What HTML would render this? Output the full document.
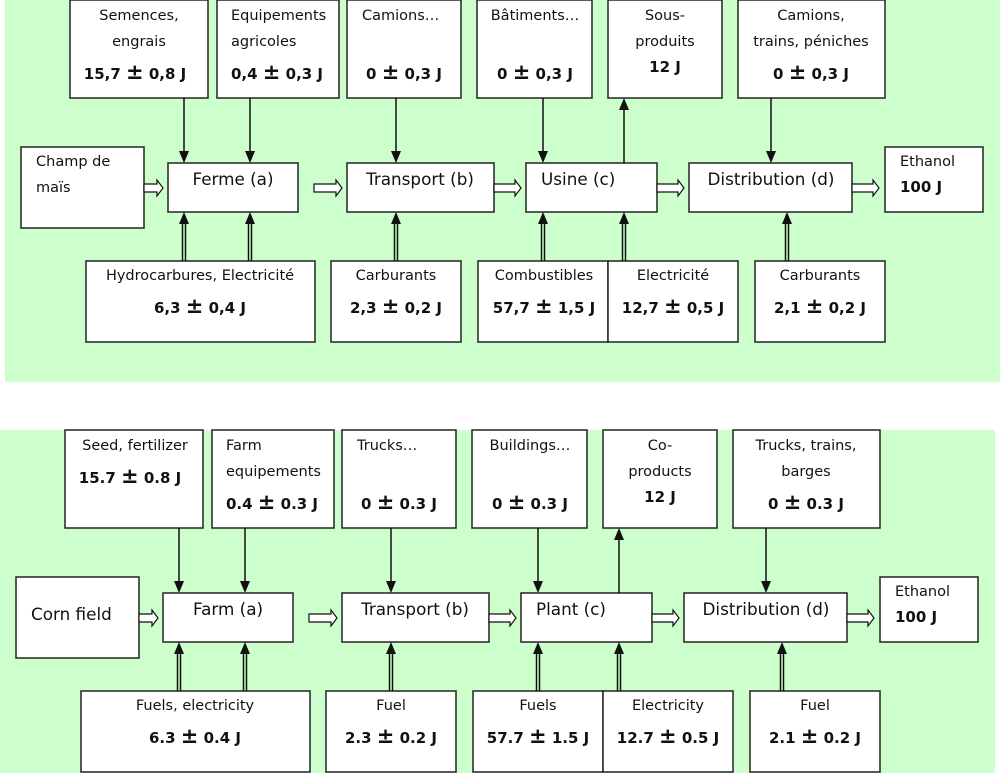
<!DOCTYPE html>
<html><head><meta charset="utf-8"><style>
html,body{margin:0;padding:0;background:#fff;width:1000px;height:773px;overflow:hidden}
svg{display:block;overflow:hidden}
text{font-family:"DejaVu Sans","Liberation Sans",sans-serif;font-size:14.5px;fill:#111}
.b{font-weight:bold;font-size:15px}
.m{font-size:16.8px}
.c{text-anchor:middle}
.pm{font-size:21px}
rect.bx{fill:#fff;stroke:#222;stroke-width:1.5}
line{stroke:#111;stroke-width:1.5}
</style></head><body>
<svg width="1000" height="773" viewBox="0 0 1000 773">
<defs>
<g id="frame">
<rect x="5" y="0" width="995" height="382" fill="#ccffcc"/>
<rect class="bx" x="70" y="0" width="138" height="98"/>
<rect class="bx" x="217" y="0" width="122" height="98"/>
<rect class="bx" x="347" y="0" width="114" height="98"/>
<rect class="bx" x="477" y="0" width="115" height="98"/>
<rect class="bx" x="608" y="0" width="114" height="98"/>
<rect class="bx" x="738" y="0" width="147" height="98"/>
<rect class="bx" x="21" y="147" width="123" height="81"/>
<rect class="bx" x="168" y="163" width="130" height="49"/>
<rect class="bx" x="347" y="163" width="147" height="49"/>
<rect class="bx" x="526" y="163" width="131" height="49"/>
<rect class="bx" x="689" y="163" width="163" height="49"/>
<rect class="bx" x="885" y="147" width="98" height="65"/>
<rect class="bx" x="86" y="261" width="229" height="81"/>
<rect class="bx" x="331" y="261" width="130" height="81"/>
<rect class="bx" x="478" y="261" width="130" height="81"/>
<rect class="bx" x="608" y="261" width="130" height="81"/>
<rect class="bx" x="755" y="261" width="130" height="81"/>
<g fill="#111">
<line x1="184" y1="98" x2="184" y2="152"/><polygon points="179,151 189,151 184,163"/>
<line x1="250" y1="98" x2="250" y2="152"/><polygon points="245,151 255,151 250,163"/>
<line x1="396" y1="98" x2="396" y2="152"/><polygon points="391,151 401,151 396,163"/>
<line x1="543" y1="98" x2="543" y2="152"/><polygon points="538,151 548,151 543,163"/>
<line x1="771" y1="98" x2="771" y2="152"/><polygon points="766,151 776,151 771,163"/>
<line x1="624" y1="163" x2="624" y2="108"/><polygon points="619,110 629,110 624,98"/>
<g stroke="#111" stroke-width="1.3">
<line x1="182.5" y1="261" x2="182.5" y2="222"/><line x1="185.5" y1="261" x2="185.5" y2="222"/>
<line x1="248.5" y1="261" x2="248.5" y2="222"/><line x1="251.5" y1="261" x2="251.5" y2="222"/>
<line x1="394.5" y1="261" x2="394.5" y2="222"/><line x1="397.5" y1="261" x2="397.5" y2="222"/>
<line x1="541.5" y1="261" x2="541.5" y2="222"/><line x1="544.5" y1="261" x2="544.5" y2="222"/>
<line x1="622.5" y1="261" x2="622.5" y2="222"/><line x1="625.5" y1="261" x2="625.5" y2="222"/>
<line x1="785.5" y1="261" x2="785.5" y2="222"/><line x1="788.5" y1="261" x2="788.5" y2="222"/>
</g>
<polygon points="179,224 189,224 184,212"/>
<polygon points="245,224 255,224 250,212"/>
<polygon points="391,224 401,224 396,212"/>
<polygon points="538,224 548,224 543,212"/>
<polygon points="619,224 629,224 624,212"/>
<polygon points="782,224 792,224 787,212"/>
</g>
<g fill="#fff" stroke="#111" stroke-width="1.2">
<polygon points="144,184 157,184 157,180 163,188 157,196 157,192 144,192"/>
<polygon points="314,184 336,184 336,180 342,188 336,196 336,192 314,192"/>
<polygon points="494,184 515,184 515,180 521,188 515,196 515,192 494,192"/>
<polygon points="657,184 678,184 678,180 684,188 678,196 678,192 657,192"/>
<polygon points="852,184 873,184 873,180 879,188 873,196 873,192 852,192"/>
</g>
</g>
</defs>

<use href="#frame"/>
<text class="c" x="139" y="20">Semences,</text>
<text class="c" x="139" y="46">engrais</text>
<text class="c b" x="135" y="79">15,7 <tspan class="pm">±</tspan> 0,8 J</text>
<text x="231" y="20">Equipements</text>
<text x="231" y="46">agricoles</text>
<text class="b" x="231" y="79">0,4 <tspan class="pm">±</tspan> 0,3 J</text>
<text x="362" y="20">Camions…</text>
<text class="c b" x="404" y="79">0 <tspan class="pm">±</tspan> 0,3 J</text>
<text class="c" x="535" y="20">Bâtiments…</text>
<text class="c b" x="535" y="79">0 <tspan class="pm">±</tspan> 0,3 J</text>
<text class="c" x="665" y="20">Sous-</text>
<text class="c" x="665" y="46">produits</text>
<text class="c b" x="665" y="72">12 J</text>
<text class="c" x="811" y="20">Camions,</text>
<text class="c" x="811" y="46">trains, péniches</text>
<text class="c b" x="811" y="79">0 <tspan class="pm">±</tspan> 0,3 J</text>
<text x="36" y="166">Champ de</text>
<text x="36" y="192">maïs</text>
<text class="c m" x="233" y="185">Ferme (a)</text>
<text class="c m" x="420" y="185">Transport (b)</text>
<text class="m" x="541" y="185">Usine (c)</text>
<text class="c m" x="771" y="185">Distribution (d)</text>
<text x="900" y="166">Ethanol</text>
<text class="b" x="900" y="192">100 J</text>
<text class="c" x="200" y="280">Hydrocarbures, Electricité</text>
<text class="c b" x="200" y="313">6,3 <tspan class="pm">±</tspan> 0,4 J</text>
<text class="c" x="396" y="280">Carburants</text>
<text class="c b" x="396" y="313">2,3 <tspan class="pm">±</tspan> 0,2 J</text>
<text class="c" x="544" y="280">Combustibles</text>
<text class="c b" x="544" y="313">57,7 <tspan class="pm">±</tspan> 1,5 J</text>
<text class="c" x="673" y="280">Electricité</text>
<text class="c b" x="673" y="313">12,7 <tspan class="pm">±</tspan> 0,5 J</text>
<text class="c" x="820" y="280">Carburants</text>
<text class="c b" x="820" y="313">2,1 <tspan class="pm">±</tspan> 0,2 J</text>

<g transform="translate(-5,430)">
<use href="#frame"/>
<text class="c" x="140" y="20">Seed, fertilizer</text>
<text class="c b" x="135" y="53">15.7 <tspan class="pm">±</tspan> 0.8 J</text>
<text x="231" y="20">Farm</text>
<text x="231" y="46">equipements</text>
<text class="b" x="231" y="79">0.4 <tspan class="pm">±</tspan> 0.3 J</text>
<text x="362" y="20">Trucks…</text>
<text class="c b" x="404" y="79">0 <tspan class="pm">±</tspan> 0.3 J</text>
<text class="c" x="535" y="20">Buildings…</text>
<text class="c b" x="535" y="79">0 <tspan class="pm">±</tspan> 0.3 J</text>
<text class="c" x="665" y="20">Co-</text>
<text class="c" x="665" y="46">products</text>
<text class="c b" x="665" y="72">12 J</text>
<text class="c" x="811" y="20">Trucks, trains,</text>
<text class="c" x="811" y="46">barges</text>
<text class="c b" x="811" y="79">0 <tspan class="pm">±</tspan> 0.3 J</text>
<text class="m" x="36" y="190">Corn field</text>
<text class="c m" x="233" y="185">Farm (a)</text>
<text class="c m" x="420" y="185">Transport (b)</text>
<text class="m" x="541" y="185">Plant (c)</text>
<text class="c m" x="771" y="185">Distribution (d)</text>
<text x="900" y="166">Ethanol</text>
<text class="b" x="900" y="192">100 J</text>
<text class="c" x="200" y="280">Fuels, electricity</text>
<text class="c b" x="200" y="313">6.3 <tspan class="pm">±</tspan> 0.4 J</text>
<text class="c" x="396" y="280">Fuel</text>
<text class="c b" x="396" y="313">2.3 <tspan class="pm">±</tspan> 0.2 J</text>
<text class="c" x="543" y="280">Fuels</text>
<text class="c b" x="543" y="313">57.7 <tspan class="pm">±</tspan> 1.5 J</text>
<text class="c" x="673" y="280">Electricity</text>
<text class="c b" x="673" y="313">12.7 <tspan class="pm">±</tspan> 0.5 J</text>
<text class="c" x="820" y="280">Fuel</text>
<text class="c b" x="820" y="313">2.1 <tspan class="pm">±</tspan> 0.2 J</text>
</g>
</svg>
</body></html>
